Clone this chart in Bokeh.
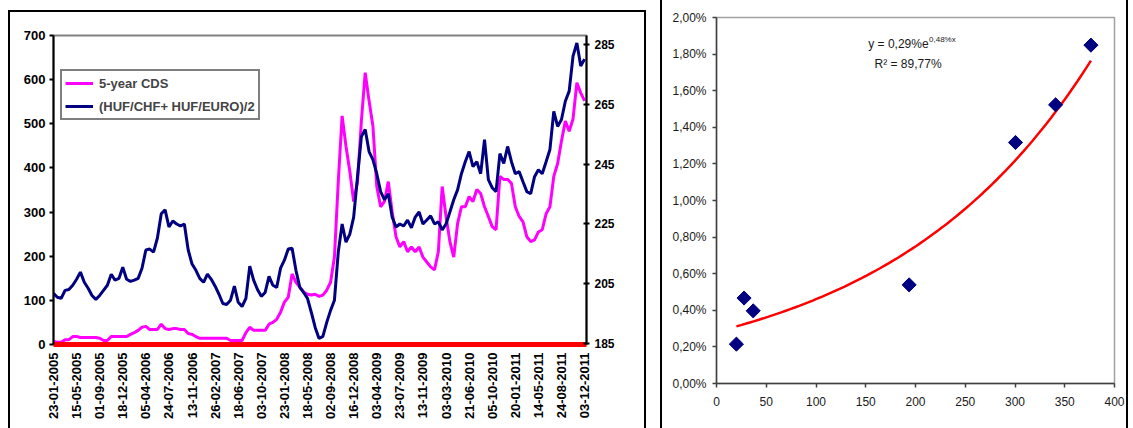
import numpy as np
from bokeh.plotting import figure
from bokeh.models import (Range1d, LinearAxis, FixedTicker, Legend, LegendItem,
                          Label, CustomJSTickFormatter)
from bokeh.embed import file_html
from bokeh.resources import INLINE

# ---------------- data: left chart ----------------
date_labels = ["23-01-2005", "15-05-2005", "01-09-2005", "18-12-2005", "05-04-2006",
               "24-07-2006", "13-11-2006", "26-02-2007", "18-06-2007", "03-10-2007",
               "23-01-2008", "18-05-2008", "02-09-2008", "16-12-2008", "03-04-2009",
               "23-07-2009", "13-11-2009", "03-03-2010", "21-06-2010", "05-10-2010",
               "20-01-2011", "14-05-2011", "24-08-2011", "03-12-2011"]

cds_5y = [7, 5, 5, 11, 11, 18, 18, 16, 16, 16, 16, 16, 14, 9, 9, 18, 18, 18, 18, 18,
          23, 27, 32, 39, 41, 34, 34, 34, 46, 36, 34, 36, 36, 34, 34, 25, 23, 18, 14, 14,
          14, 14, 14, 14, 14, 14, 9, 9, 9, 9, 27, 39, 32, 32, 32, 32, 46, 50, 57, 73,
          96, 107, 160, 141, 130, 119, 114, 112, 114, 109, 112, 123, 141, 198, 369, 518, 449, 392, 324, 369,
          506, 616, 552, 495, 358, 312, 324, 369, 301, 244, 221, 233, 210, 221, 210, 221, 198, 187, 176, 169,
          210, 358, 290, 233, 198, 274, 312, 312, 335, 324, 351, 342, 312, 290, 267, 260, 381, 374, 374, 365,
          312, 290, 278, 244, 233, 237, 255, 260, 296, 312, 381, 410, 461, 506, 483, 511, 593, 570, 552]

huf_basket = [201.8, 200.5, 200.1, 202.8, 203.1, 204.5, 206.5, 208.9, 205.5, 203.5,
              201.1, 199.8, 201.1, 202.8, 204.5, 208.2, 206.2, 206.8, 210.5, 206.5,
              205.8, 206.2, 206.8, 210.2, 216.3, 216.6, 215.6, 220.3, 228.4, 229.7,
              224.0, 226.0, 225.0, 224.3, 225.0, 216.3, 211.6, 209.5, 206.8, 205.5,
              208.2, 206.5, 204.2, 201.5, 198.4, 198.1, 199.5, 204.2, 198.8, 197.4,
              200.1, 210.9, 206.2, 203.1, 200.8, 202.1, 207.5, 204.5, 203.8, 210.2,
              212.9, 216.6, 216.9, 209.5, 203.8, 202.1, 200.1, 195.4, 190.4, 186.7,
              187.4, 192.1, 196.1, 199.5, 215.6, 225.0, 218.9, 221.6, 227.3, 240.8,
              254.2, 256.6, 249.2, 246.5, 241.8, 235.8, 233.1, 235.1, 227.3, 224.0,
              225.0, 224.3, 226.3, 223.7, 227.3, 229.0, 225.0, 226.3, 227.7, 225.0,
              225.7, 223.0, 225.0, 229.0, 233.1, 236.4, 241.8, 245.8, 249.2, 244.2,
              245.8, 241.8, 253.2, 239.8, 237.1, 235.8, 248.5, 245.2, 250.9, 245.8,
              241.8, 242.5, 239.1, 235.8, 235.1, 240.8, 243.1, 241.8, 245.8, 249.9,
              262.6, 257.6, 259.9, 266.0, 269.4, 281.1, 285.5, 277.8, 280.1]

left_ticks = [0, 100, 200, 300, 400, 500, 600, 700]
right_ticks = [185, 205, 225, 245, 265, 285]

# ---------------- data: right chart ----------------
spread_x = [20.0, 27.7, 36.9, 193.6, 300.5, 340.8, 376.3]
spread_y = [0.215, 0.467, 0.397, 0.539, 1.317, 1.523, 1.849]
x_ticks = [0, 50, 100, 150, 200, 250, 300, 350, 400]
y_ticks = [0.0, 0.2, 0.4, 0.6, 0.8, 1.0, 1.2, 1.4, 1.6, 1.8, 2.0]
eq_main = "y = 0,29%e"
eq_sup = "0,48%x"
eq_r2 = "R\u00b2 = 89,77%"

BOLD = "Liberation Sans"

# ================= left chart =================
n = len(cds_5y)
idx = np.arange(n)
step = (n - 1) // (len(date_labels) - 1)
tick_pos = [i * step for i in range(len(date_labels))]

p1 = figure(width=634, height=416, output_backend="svg", toolbar_location=None,
            x_range=Range1d(0, n - 0.5), y_range=Range1d(0, 700),
            min_border_left=43, min_border_right=62, min_border_top=23,
            min_border_bottom=86,
            styles={"position": "absolute", "left": "8px", "top": "10px",
                    "box-sizing": "content-box",
                    "border-top": "2px solid black", "border-left": "2px solid black",
                    "border-right": "2px solid black"})
p1.extra_y_ranges = {"huf": Range1d(184.7, 288.0)}
p1.xgrid.visible = False
p1.ygrid.visible = False
p1.outline_line_color = "#808080"
p1.outline_line_width = 2
p1.background_fill_color = "white"
p1.border_fill_color = "white"

r_cds = p1.line(idx, cds_5y, line_color="#FF00FF", line_width=3)
r_huf = p1.line(idx, huf_basket, line_color="#000080", line_width=3, y_range_name="huf")

xa = p1.xaxis[0]
xa.ticker = FixedTicker(ticks=tick_pos)
xa.major_label_overrides = {t: lab for t, lab in zip(tick_pos, date_labels)}
xa.major_label_orientation = np.pi / 2
xa.axis_line_color = "#FF0000"
xa.axis_line_width = 5
xa.major_tick_out = 0
xa.major_tick_in = 0
xa.minor_tick_out = 0
xa.minor_tick_in = 0
xa.major_label_standoff = 8
xa.major_label_text_font = BOLD
xa.major_label_text_font_style = "bold"
xa.major_label_text_font_size = "13px"
xa.major_label_text_color = "black"

ya = p1.yaxis[0]
ya.ticker = FixedTicker(ticks=left_ticks)
ya.axis_line_color = "black"
ya.axis_line_width = 2
ya.major_tick_line_width = 2
ya.major_tick_out = 4
ya.major_tick_in = 0
ya.minor_tick_out = 0
ya.minor_tick_in = 0
ya.major_label_standoff = 4
ya.major_label_text_font = BOLD
ya.major_label_text_font_style = "bold"
ya.major_label_text_font_size = "13px"
ya.major_label_text_color = "black"

ax_r = LinearAxis(y_range_name="huf", ticker=FixedTicker(ticks=right_ticks))
ax_r.axis_line_color = "black"
ax_r.axis_line_width = 2
ax_r.major_tick_line_width = 2
ax_r.major_tick_out = 3
ax_r.major_tick_in = 3
ax_r.minor_tick_out = 0
ax_r.minor_tick_in = 0
ax_r.major_label_standoff = 5
ax_r.major_label_text_font = BOLD
ax_r.major_label_text_font_style = "bold"
ax_r.major_label_text_font_size = "12px"
ax_r.major_label_text_color = "black"
p1.add_layout(ax_r, "right")

legend = Legend(items=[LegendItem(label="5-year CDS", renderers=[r_cds]),
                       LegendItem(label="(HUF/CHF+ HUF/EURO)/2", renderers=[r_huf])],
                location=(7, 224))
legend.border_line_color = "black"
legend.border_line_width = 2
legend.background_fill_color = "white"
legend.background_fill_alpha = 1
legend.label_text_font = BOLD
legend.label_text_font_style = "bold"
legend.label_text_font_size = "13px"
legend.glyph_width = 28
legend.glyph_height = 18
legend.label_height = 18
legend.label_standoff = 6
legend.spacing = 5
legend.padding = 3
legend.margin = 0
p1.add_layout(legend)

# ================= right chart =================
p2 = figure(width=464, height=428, output_backend="svg", toolbar_location=None,
            x_range=Range1d(0, 400), y_range=Range1d(0, 2),
            min_border_left=54, min_border_right=16, min_border_top=17,
            min_border_bottom=45,
            styles={"position": "absolute", "left": "660px", "top": "0px",
                    "box-sizing": "content-box",
                    "border-left": "2px solid black", "border-right": "2px solid black"})
p2.xgrid.visible = False
p2.ygrid.visible = False
p2.outline_line_color = "#a0a0a0"
p2.outline_line_width = 1.5
p2.background_fill_color = "white"
p2.border_fill_color = "white"

b, ln_a = np.polyfit(np.array(spread_x), np.log(np.array(spread_y)), 1)
xs = np.linspace(min(spread_x), max(spread_x), 80)
ys = np.exp(ln_a) * np.exp(b * xs)
p2.line(xs, ys, line_color="#FF0000", line_width=2.5)
p2.scatter(spread_x, spread_y, marker="square", angle=np.pi / 4, size=10,
           fill_color="#000080", line_color="#000080")

for ax in (p2.xaxis[0], p2.yaxis[0]):
    ax.axis_line_color = "#404040"
    ax.axis_line_width = 1.5
    ax.major_tick_line_color = "#404040"
    ax.major_tick_line_width = 1.5
    ax.major_tick_out = 4
    ax.major_tick_in = 0
    ax.minor_tick_out = 0
    ax.minor_tick_in = 0
    ax.major_label_text_font = "Liberation Sans"
    ax.major_label_text_font_size = "12px"
    ax.major_label_text_color = "#1a1a1a"
p2.xaxis[0].ticker = FixedTicker(ticks=x_ticks)
p2.xaxis[0].major_label_standoff = 9
p2.yaxis[0].ticker = FixedTicker(ticks=y_ticks)
p2.yaxis[0].formatter = CustomJSTickFormatter(
    code="return tick.toFixed(2).replace('.', ',') + '%';")
p2.yaxis[0].major_label_standoff = 6

p2.add_layout(Label(x=213.2, y=1.894, text=eq_main, text_align="right", text_baseline="top",
                    text_font="Liberation Sans", text_font_size="12px", text_color="#1a1a1a"))
p2.add_layout(Label(x=213.6, y=1.906, text=eq_sup, text_align="left", text_baseline="top",
                    text_font="Liberation Sans", text_font_size="8px", text_color="#1a1a1a"))
p2.add_layout(Label(x=192.5, y=1.784, text=eq_r2, text_align="center", text_baseline="top",
                    text_font="Liberation Sans", text_font_size="12px", text_color="#1a1a1a"))

open("out.html", "w").write(file_html([p1, p2], INLINE))
